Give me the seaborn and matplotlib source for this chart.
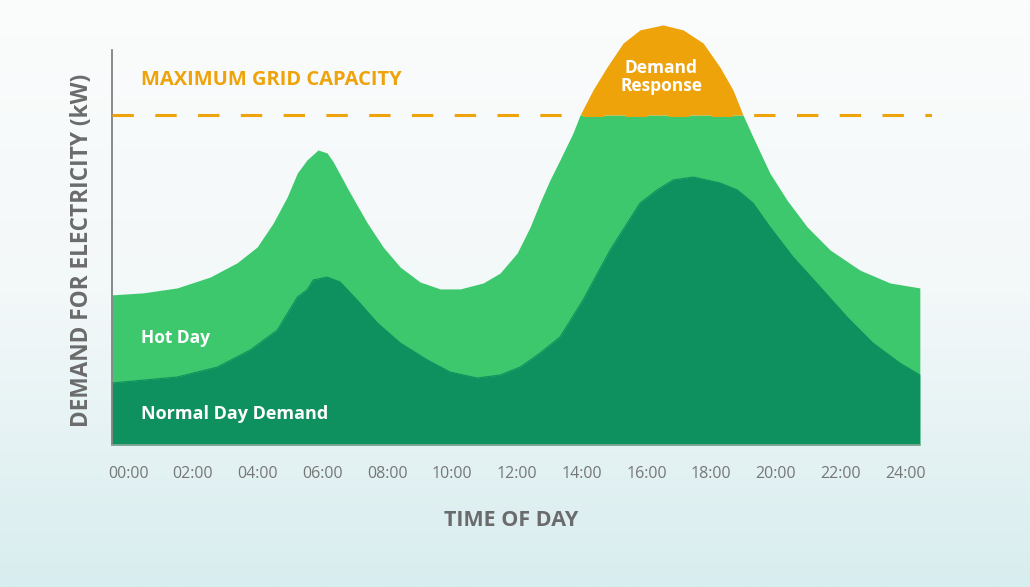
import numpy as np
import matplotlib
matplotlib.use("Agg")
import matplotlib.pyplot as plt
import seaborn as sns

# hours of day and demand in arbitrary kW units
hot_hours = [-0.49, 0.46, 1.51, 2.53, 3.36, 3.98, 4.48, 4.91, 5.22, 5.52, 5.86, 6.14,
             6.33, 6.85, 7.38, 7.87, 8.40, 9.01, 9.63, 10.25, 10.96, 11.48, 12.01,
             12.41, 12.72, 13.02, 13.33, 13.73, 13.95, 14.35, 14.78, 15.28, 15.80,
             16.51, 17.13, 17.75, 18.27, 18.67, 18.98, 19.29, 19.81, 20.34, 20.96,
             21.67, 22.59, 23.52, 24.44]
hot_day = [45.5, 46.1, 47.6, 50.9, 55.2, 60.0, 67.3, 75.2, 82.4, 86.4, 89.4, 88.5,
           85.8, 76.4, 67.3, 60.0, 53.9, 49.4, 47.3, 47.3, 49.1, 52.1, 58.2, 66.1,
           73.6, 80.3, 86.4, 94.5, 100, 107.6, 114.5, 121.8, 125.8, 127.3, 125.8,
           121.8, 114.5, 107.6, 100, 93.3, 82.4, 74.2, 66.1, 59.1, 53.0, 49.1, 47.6]

normal_hours = [-0.49, 1.51, 2.75, 3.77, 4.60, 5.22, 5.52, 5.71, 6.14, 6.54, 7.07,
                7.69, 8.40, 9.23, 9.94, 10.77, 11.48, 12.10, 12.72, 13.33, 14.04,
                14.88, 15.80, 16.33, 16.82, 17.44, 18.27, 18.80, 19.29, 19.81, 20.52,
                21.36, 22.19, 22.99, 23.83, 24.44]
normal_day = [18.8, 20.6, 23.6, 28.8, 34.8, 44.8, 47.0, 50.0, 50.9, 49.4, 43.9, 37.0,
              30.9, 25.8, 22.1, 20.3, 21.2, 23.6, 27.9, 32.7, 43.9, 59.1, 73.3, 77.3,
              80.3, 81.2, 79.4, 77.3, 73.3, 66.1, 57.0, 47.9, 38.8, 30.9, 24.8, 21.2]

grid_capacity = 100
tick_hours = list(range(0, 25, 2))
tick_labels = ["%02d:00" % h for h in tick_hours]

LIGHT = "#3ec86d"
DARK = "#0f915f"
ORANGE = "#efa30b"
GREY = "#6b6b6b"

sns.set_theme(style="white")
plt.rcParams["font.family"] = ["Open Sans", "DejaVu Sans"]

fig = plt.figure(figsize=(10.3, 5.87), dpi=100)

# background gradient
bg = fig.add_axes([0, 0, 1, 1], zorder=-10)
grad = np.linspace(0, 1, 256).reshape(-1, 1)
cmap = matplotlib.colors.LinearSegmentedColormap.from_list("bg", ["#fbfcfc", "#f3f8f9", "#d8edef"])
bg.imshow(grad, aspect="auto", cmap=cmap, extent=[0, 1, 0, 1])
bg.axis("off")

ax = fig.add_axes([112 / 1030, 142 / 587, 819.5 / 1030, 429 / 587])
ax.patch.set_alpha(0)

hx = np.array(hot_hours)
hy = np.array(hot_day)
ax.fill_between(hx, 0, np.minimum(hy, grid_capacity), color=LIGHT, lw=0)
ax.fill_between(hx, grid_capacity, hy, where=hy >= grid_capacity, interpolate=True,
                color=ORANGE, lw=0)
ax.fill_between(normal_hours, 0, normal_day, color=DARK, lw=0)
sns.lineplot(x=normal_hours, y=normal_day, ax=ax, color=DARK, lw=0.8)

ax.axhline(grid_capacity, color=ORANGE, lw=2.2, dashes=(7, 7), zorder=3)

ax.set_xlim(-0.5, 24.8)
ax.set_ylim(0, 130)
ax.set_xticks(tick_hours)
ax.set_xticklabels(tick_labels, color="#777777", fontsize=11.5)
ax.tick_params(axis="x", length=0, pad=15)
ax.set_yticks([])
for s in ["top", "right"]:
    ax.spines[s].set_visible(False)
ax.spines["left"].set_bounds(0, 119.7)
ax.spines["left"].set_color("#777777")
ax.spines["left"].set_linewidth(1.2)
ax.spines["bottom"].set_bounds(-0.5, 24.45)
ax.spines["bottom"].set_color("#8aa89c")
ax.spines["bottom"].set_linewidth(1.2)

ax.text(0.4, 110.5, "MAXIMUM GRID CAPACITY", color=ORANGE, fontsize=14.5,
        fontweight="bold", va="center", ha="left")
ax.text(16.45, 111.5, "Demand\nResponse", color="white", fontsize=12.5,
        fontweight="bold", va="center", ha="center", linespacing=1.05)
ax.text(0.4, 32.5, "Hot Day", color="white", fontsize=12.5, fontweight="bold",
        va="center", ha="left")
ax.text(0.4, 9.5, "Normal Day Demand", color="white", fontsize=13,
        fontweight="bold", va="center", ha="left")

fig.text(82 / 1030, 1 - 250 / 587, "DEMAND FOR ELECTRICITY (kW)", rotation=90,
         color=GREY, fontsize=16.3, fontweight="bold", ha="center", va="center")
fig.text(511 / 1030, 1 - 521 / 587, "TIME OF DAY", color=GREY, fontsize=15.5,
         fontweight="bold", ha="center", va="center")

fig.savefig("out.png", dpi=100)
